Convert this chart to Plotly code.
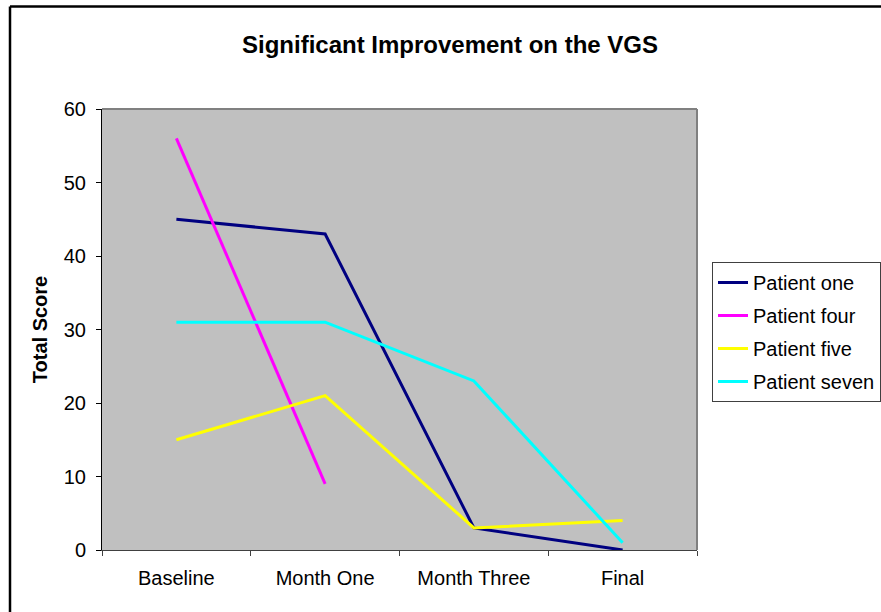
import plotly.graph_objects as go

categories = ["Baseline", "Month One", "Month Three", "Final"]
patient_one = [45, 43, 3, 0]
patient_four = [56, 9, None, None]
patient_five = [15, 21, 3, 4]
patient_seven = [31, 31, 23, 1]

series = [
    ("Patient one", patient_one, "#000080"),
    ("Patient four", patient_four, "#FF00FF"),
    ("Patient five", patient_five, "#FFFF00"),
    ("Patient seven", patient_seven, "#00FFFF"),
]

fig = go.Figure()
for i, (name, vals, col) in enumerate(series):
    fig.add_trace(go.Scatter(
        x=categories, y=vals, name=name, mode="lines",
        line=dict(color=col, width=3), legendgroup=f"g{i}",
        connectgaps=False,
    ))

L, R, T, B = 102, 697, 109, 550
W, H = 881, 612
FONT = "Liberation Sans, Arial, sans-serif"

def px_x(p):
    return (p - L) / (R - L)

def px_y(p):
    return (B - p) / (B - T)

fig.update_layout(
    width=W, height=H,
    margin=dict(l=L, r=W - R, t=T, b=H - B, autoexpand=False),
    paper_bgcolor="white",
    plot_bgcolor="#C0C0C0",
    font=dict(family=FONT, size=20, color="black"),
    title=dict(
        text="<b>Significant Improvement on the VGS</b>",
        x=450 / W, xref="container", xanchor="center",
        y=1 - 45 / H, yref="container", yanchor="middle",
        font=dict(size=24, family=FONT),
    ),
    showlegend=True,
    legend=dict(
        x=px_x(712), y=px_y(262), xanchor="left", yanchor="top",
        bgcolor="white", bordercolor="#404040", borderwidth=1,
        font=dict(size=20), tracegroupgap=4,
        itemwidth=30,
    ),
    xaxis=dict(
        type="category", range=[-0.5, 3.5],
        showgrid=False, zeroline=False,
        showline=True, linecolor="#404040", linewidth=1,
        ticks="outside", tickson="boundaries", ticklen=5, tickcolor="#404040",
        tickfont=dict(size=20), ticklabelstandoff=10,
    ),
    yaxis=dict(
        range=[0, 60], dtick=10, showgrid=False, zeroline=False,
        showline=True, linecolor="black", linewidth=1,
        ticks="outside", ticklen=5, tickcolor="black",
        tickfont=dict(size=20), ticklabelstandoff=6,
        title=dict(text="<b>Total Score</b>", font=dict(size=20), standoff=10),
    ),
)

# gray top/right border of plot area
fig.add_shape(type="line", xref="paper", yref="paper", x0=0, x1=1, y0=1, y1=1,
              line=dict(color="#808080", width=2))
fig.add_shape(type="line", xref="paper", yref="paper", x0=1, x1=1, y0=0, y1=1,
              line=dict(color="#808080", width=2))

# outer chart border (left and top visible)
fig.add_shape(type="line", xref="paper", yref="paper",
              x0=px_x(10), x1=px_x(10), y0=px_y(620), y1=px_y(6.5),
              line=dict(color="black", width=2.5))
fig.add_shape(type="line", xref="paper", yref="paper",
              x0=px_x(10), x1=px_x(900), y0=px_y(6.5), y1=px_y(6.5),
              line=dict(color="black", width=2.5))

fig.write_html("out.html", config={"displayModeBar": False},
               post_script="document.body.style.margin='0px';")
